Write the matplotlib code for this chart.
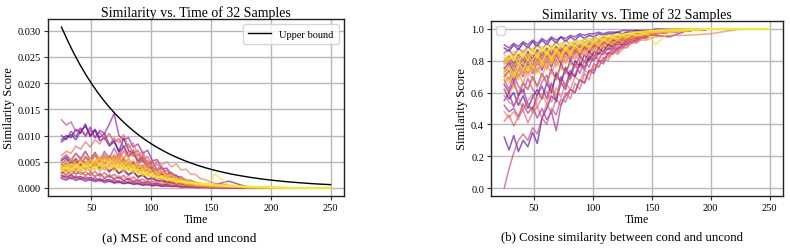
import numpy as np
import matplotlib
matplotlib.use("Agg")
import matplotlib.pyplot as plt

plt.rcParams['font.family'] = ['Liberation Serif', 'DejaVu Serif']

# shared time grid of the 32 sample curves
T = [25, 29, 33, 37, 41, 45, 49, 53, 57, 61, 65, 69, 73, 77, 81, 85, 89, 93, 97,
     101, 105, 109, 113, 117, 121, 125, 129, 133, 137, 141, 145, 149, 153, 165,
     180, 200, 225, 250]

# MSE of cond and uncond, in units of 1e-4
mse_e4 = [
    [24,20,25,19,22,17,20,15,17,13,16,11,13,9,11,8,9,6,7,5,6,4,5,3,4,2,3,2,2,1,2,1,1,1,0,0,0,0],
    [92,100,96,112,104,122,98,110,90,96,80,88,70,95,72,66,52,58,42,36,30,28,22,20,15,14,10,9,7,7,5,5,4,3,1,0,0,0],
    [52,58,47,55,44,50,40,48,37,44,33,38,28,34,26,30,22,24,17,18,13,14,10,10,7,7,5,5,4,3,3,2,2,1,1,0,0,0],
    [88,95,102,92,108,118,100,112,96,104,82,92,68,80,60,70,48,54,38,40,28,26,20,18,13,12,9,9,7,6,5,4,4,3,1,0,0,0],
    [30,25,33,27,31,24,29,22,27,19,24,17,21,14,18,12,15,10,12,8,9,6,7,5,5,3,4,2,3,2,2,1,1,1,0,0,0,0],
    [45,54,46,56,44,60,50,62,48,58,46,56,44,52,36,48,30,36,24,28,17,20,12,13,8,9,6,6,4,4,3,3,2,2,1,0,0,0],
    [18,15,20,14,18,13,16,12,15,10,13,9,11,8,10,7,8,5,7,4,5,3,4,3,3,2,2,2,1,1,1,1,1,0,0,0,0,0],
    [55,62,52,66,56,70,54,68,52,64,48,60,44,56,40,50,34,44,28,34,22,26,16,19,11,13,8,9,6,6,4,5,6,13,2,0,0,0],
    [100,92,108,98,114,100,116,96,110,104,122,142,100,92,96,78,84,66,72,52,54,36,38,26,24,17,15,11,10,7,6,5,4,3,1,0,0,0],
    [35,42,31,39,33,43,32,44,33,41,30,40,28,34,24,32,20,26,16,20,13,15,10,11,7,8,6,6,4,4,3,3,2,2,1,0,0,0],
    [50,44,56,46,54,44,56,42,54,42,50,40,52,38,48,34,44,30,36,24,28,18,20,13,14,9,10,7,7,5,5,4,3,2,1,0,0,0],
    [20,24,17,23,16,22,15,20,13,18,12,16,10,14,9,12,8,10,6,8,5,6,4,5,3,4,2,3,2,2,1,1,1,1,0,0,0,0],
    [40,46,38,52,42,58,48,64,52,70,56,76,58,80,62,72,50,64,42,50,34,40,26,30,20,22,14,15,10,9,7,6,5,3,1,0,0,0],
    [28,33,25,34,26,31,24,32,22,29,20,26,18,24,15,21,13,17,11,13,9,10,7,8,5,6,4,4,3,3,2,2,2,1,0,0,0,0],
    [130,120,126,108,114,98,110,96,106,92,104,86,94,78,84,66,72,52,60,42,46,30,34,22,24,15,16,10,11,7,7,5,4,3,1,0,0,0],
    [45,38,50,40,52,38,50,44,58,46,62,52,66,56,70,60,64,50,52,38,36,26,24,16,15,10,9,7,6,5,4,4,3,2,1,0,0,0],
    [22,18,23,17,21,16,20,15,18,14,16,12,14,10,13,9,11,7,9,6,7,5,5,4,4,3,3,2,2,2,2,1,1,1,0,0,0,0],
    [38,32,42,34,44,34,42,36,46,34,44,34,42,32,40,28,34,24,28,18,22,14,17,11,12,8,9,6,6,4,4,3,3,2,1,0,0,0],
    [62,70,66,80,74,88,78,92,84,100,82,96,86,102,76,86,62,70,46,52,34,40,24,28,16,18,11,12,8,7,6,5,4,3,1,0,0,0],
    [30,36,32,40,34,44,36,48,42,56,48,62,54,70,58,66,50,56,38,40,26,28,18,20,13,14,9,9,6,6,4,4,3,2,1,0,0,0],
    [42,36,46,40,48,40,52,42,54,44,56,46,58,44,56,40,48,38,50,40,52,44,50,40,46,34,36,26,26,18,16,12,9,5,3,1,0,0],
    [55,64,54,66,52,68,54,66,52,60,48,62,44,58,40,48,32,40,26,30,19,22,14,16,10,11,7,8,5,5,4,4,3,2,1,0,0,0],
    [35,40,32,42,36,46,40,52,46,58,50,64,56,72,60,74,56,62,42,44,28,30,18,20,12,13,8,8,5,5,4,4,3,2,1,0,0,0],
    [40,34,46,40,52,42,56,46,60,44,58,46,62,44,56,40,50,34,42,28,32,22,26,24,20,14,14,9,9,6,6,5,4,3,1,0,0,0],
    [28,24,32,25,30,23,29,22,30,20,27,19,24,18,22,15,18,12,15,10,12,8,10,6,8,5,6,4,4,3,3,2,2,1,1,0,0,0],
    [45,52,42,54,48,58,46,62,50,64,48,58,52,60,42,54,38,44,30,36,28,32,22,26,16,18,12,13,9,9,7,6,5,3,1,0,0,0],
    [32,38,28,40,30,42,32,44,34,46,36,48,36,44,34,40,28,32,22,26,18,20,14,15,10,11,8,8,6,6,5,4,4,3,2,1,0,0],
    [50,42,56,44,50,42,54,44,58,42,56,44,52,42,50,36,46,32,38,28,30,22,24,18,19,14,15,11,11,8,8,7,6,4,2,1,0,0],
    [36,30,40,32,38,30,44,34,46,34,40,32,42,30,40,28,33,24,28,20,22,16,18,12,13,10,11,8,8,6,6,6,5,4,2,1,0,0],
    [38,44,36,46,38,50,42,54,44,56,46,56,42,52,38,44,32,36,26,28,20,22,16,18,12,13,9,10,7,8,8,10,27,5,3,1,0,0],
    [42,36,46,38,50,40,44,38,48,40,50,38,48,36,42,32,36,27,31,23,26,18,21,15,16,11,13,9,10,7,7,6,5,4,2,1,0,0],
    [34,40,31,42,33,44,35,40,34,42,36,44,33,42,32,38,26,32,22,27,19,23,15,18,12,14,10,11,8,9,7,6,5,4,2,1,0,0],
]

# cosine similarity between cond and uncond, in percent
cos_pct = [
    [88,86,90,87,91,88,92,89,93,90,94,91,95,92,95,93,96,94,96,95,97,96,97,97,98,97,98,98,99,98,99,99,99,99,100,100,100,100],
    [62,56,60,52,58,50,57,62,56,66,60,72,66,76,70,80,76,84,80,86,84,89,87,91,90,93,92,95,94,96,96,97,98,98,99,100,100,100],
    [80,83,78,84,80,86,81,87,83,88,84,89,86,90,87,91,88,92,90,93,91,94,93,95,94,96,95,97,96,97,97,98,98,99,99,100,100,100],
    [32,24,33,23,30,26,35,28,44,50,58,55,66,62,72,70,78,76,83,82,87,86,90,89,92,92,94,94,96,95,97,97,98,99,99,100,100,100],
    [75,79,73,80,76,82,77,84,79,85,80,86,82,88,84,89,85,90,87,92,89,93,91,94,93,95,94,96,95,97,96,98,98,99,99,100,100,100],
    [65,60,67,58,66,62,70,64,72,66,75,68,78,72,80,76,83,79,86,82,88,85,90,88,92,90,94,93,95,95,96,97,98,98,99,100,100,100],
    [90,88,91,89,92,90,93,91,94,92,95,93,95,94,96,95,97,96,97,97,98,97,98,98,98,99,99,99,99,99,99,99,100,100,100,100,100,100],
    [70,74,67,75,70,78,72,80,74,82,76,84,78,86,80,87,83,89,85,90,88,92,90,93,92,94,93,95,95,96,96,97,96,95,99,100,100,100],
    [55,60,51,58,62,53,49,59,64,56,66,54,70,64,74,70,79,74,82,80,85,84,88,87,91,90,93,93,95,95,96,97,98,98,99,100,100,100],
    [78,81,76,83,78,84,80,85,81,87,83,88,84,89,85,90,86,91,88,92,90,93,92,94,93,95,95,96,96,97,97,98,98,99,99,100,100,100],
    [52,48,50,45,53,47,51,44,50,43,48,36,52,58,62,60,68,66,74,72,80,78,85,84,88,88,91,91,93,94,95,96,97,98,99,100,100,100],
    [85,87,83,88,85,89,86,90,87,91,88,92,89,93,90,93,91,94,92,95,93,95,94,96,95,97,96,97,97,98,98,98,99,99,100,100,100,100],
    [68,62,71,64,60,69,62,58,67,71,60,73,66,75,68,78,72,80,76,84,80,86,84,89,87,91,90,93,92,95,94,96,97,98,99,100,100,100],
    [73,77,70,78,72,80,74,82,76,83,78,85,80,86,82,88,84,89,86,90,88,92,90,93,92,95,94,96,95,97,96,97,98,99,99,100,100,100],
    [0,12,22,30,34,30,38,34,44,40,50,46,56,54,62,60,68,66,74,74,80,80,85,85,89,89,92,92,94,95,96,97,97,98,99,100,100,100],
    [80,77,82,78,83,79,84,80,86,82,87,83,88,84,89,85,90,87,91,89,92,91,94,93,95,94,96,96,97,97,97,98,98,99,99,100,100,100],
    [42,46,39,45,49,41,47,51,44,53,47,56,52,60,56,66,62,72,68,78,76,82,82,87,86,90,90,93,93,95,95,96,97,98,99,100,100,100],
    [76,73,78,74,79,75,81,77,83,78,85,80,86,82,87,84,88,86,90,88,91,90,93,92,94,94,95,96,96,97,97,98,98,99,99,100,100,100],
    [58,54,52,57,49,55,59,51,57,61,54,63,57,66,62,70,67,74,72,78,76,82,80,86,85,89,88,92,91,94,94,96,97,98,99,100,100,100],
    [72,68,75,70,76,72,78,73,80,75,82,77,84,79,85,81,86,83,88,86,90,88,92,90,93,92,95,94,96,96,97,97,98,99,99,100,100,100],
    [48,44,48,43,51,53,47,56,59,53,63,58,67,63,71,72,77,76,80,83,82,85,83,86,84,87,89,91,92,93,93,94,95,96,96,97,100,100],
    [66,70,63,72,66,74,68,76,70,78,72,80,75,82,78,84,80,86,83,88,86,90,88,92,91,94,93,95,95,96,97,97,98,99,99,100,100,100],
    [82,79,84,80,85,81,86,82,87,84,88,85,89,86,90,88,91,89,92,91,93,92,94,94,95,96,96,97,97,98,98,98,99,99,100,100,100,100],
    [62,58,65,60,67,62,69,63,71,66,73,68,76,72,78,76,81,79,84,82,87,85,89,88,91,91,93,93,95,95,96,97,97,98,99,100,100,100],
    [79,82,77,83,79,84,80,85,82,87,83,88,84,89,86,90,87,91,88,92,90,93,91,94,93,95,94,96,96,97,97,98,98,99,99,100,100,100],
    [70,66,73,68,75,70,77,72,79,74,81,76,83,78,85,82,87,84,88,86,90,88,92,90,93,92,95,94,96,96,97,97,98,98,99,100,100,100],
    [84,81,86,82,87,83,88,84,89,86,90,87,91,88,92,90,93,91,94,93,95,94,96,95,97,96,97,97,98,98,98,99,99,99,100,100,100,100],
    [68,73,69,75,71,77,73,80,76,82,78,85,80,87,83,88,85,90,87,91,89,93,91,94,93,95,95,96,96,97,97,98,98,99,99,100,100,100],
    [74,77,72,79,74,81,76,83,78,85,80,87,82,88,84,90,86,91,88,92,90,93,92,95,94,96,95,97,96,97,97,98,98,99,99,100,100,100],
    [72,75,70,77,79,74,81,84,79,86,81,87,83,89,85,90,87,92,89,93,91,94,93,95,94,96,95,97,96,96,97,95,90,98,99,100,100,100],
    [78,81,83,78,85,80,87,82,88,84,89,86,90,87,91,89,92,90,93,92,94,93,95,95,96,96,97,97,98,98,98,99,99,99,100,100,100,100],
    [80,84,80,86,82,88,84,89,86,90,87,91,89,92,90,93,91,94,93,95,94,96,95,96,96,97,97,98,98,98,99,99,99,100,100,100,100,100],
]

# upper bound curve (units of 1e-4)
UB_T = list(range(25, 251, 5))
UB_e4 = [307, 281.7, 258.4, 237.1, 217.5, 199.6, 183.1, 168.0, 154.1, 141.4, 129.7,
         119.0, 109.2, 100.2, 91.9, 84.3, 77.4, 71.0, 65.1, 59.8, 54.8, 50.3, 46.2,
         42.3, 38.8, 35.6, 32.7, 30.0, 27.5, 25.2, 23.2, 21.3, 19.5, 17.9, 16.4,
         15.1, 13.8, 12.7, 11.6, 10.7, 9.8, 9.0, 8.2, 7.5, 6.9, 6.4]

TITLE = "Similarity vs. Time of 32 Samples"
CAPTIONS = ["(a) MSE of cond and uncond", "(b) Cosine similarity between cond and uncond"]

fig = plt.figure(figsize=(7.9, 2.51), dpi=100)
axL = fig.add_axes([0.0608, 0.2151, 0.3747, 0.7052])
axR = fig.add_axes([0.6215, 0.2151, 0.3696, 0.6972])

colors = plt.cm.plasma(np.linspace(0.05, 1.0, 32))
t = np.array(T)

for i, s in enumerate(mse_e4):
    axL.plot(t, np.array(s) * 1e-4, color=colors[i], alpha=0.65, lw=1.1)
axL.plot(UB_T, np.array(UB_e4) * 1e-4, color='black', lw=1.0, label='Upper bound')

for i, s in enumerate(cos_pct):
    axR.plot(t, np.array(s) / 100.0, color=colors[i], alpha=0.65, lw=1.1)

for ax in (axL, axR):
    ax.set_title(TITLE, fontsize=10, pad=2)
    ax.set_xlabel("Time", fontsize=8.5, labelpad=1)
    ax.set_ylabel("Similarity Score", fontsize=9, labelpad=2)
    ax.tick_params(labelsize=7.5, length=3, width=0.8, pad=2, color='#333333')
    ax.grid(True, color='#b8b8b8', lw=1.0)
    ax.set_axisbelow(True)
    ax.set_xticks([50, 100, 150, 200, 250])
    for sp in ax.spines.values():
        sp.set_color('#222222')
        sp.set_linewidth(1.0)

axL.set_yticks([0.0, 0.005, 0.010, 0.015, 0.020, 0.025, 0.030])
axL.set_yticklabels(["0.000", "0.005", "0.010", "0.015", "0.020", "0.025", "0.030"])
axL.legend(loc='upper right', fontsize=7.5, handlelength=2.2, borderpad=0.5)

axR.set_yticks([0.0, 0.2, 0.4, 0.6, 0.8, 1.0])
axR.set_yticklabels(["0.0", "0.2", "0.4", "0.6", "0.8", "1.0"])
axR.legend(handles=[], loc='upper left', fontsize=7.5)

fig.text(179 / 790, 1 - 238 / 251, CAPTIONS[0], ha='center', va='center', fontsize=9.5)
fig.text(622 / 790, 1 - 238 / 251, CAPTIONS[1], ha='center', va='center', fontsize=9.2)

fig.savefig("out.png", dpi=100)
